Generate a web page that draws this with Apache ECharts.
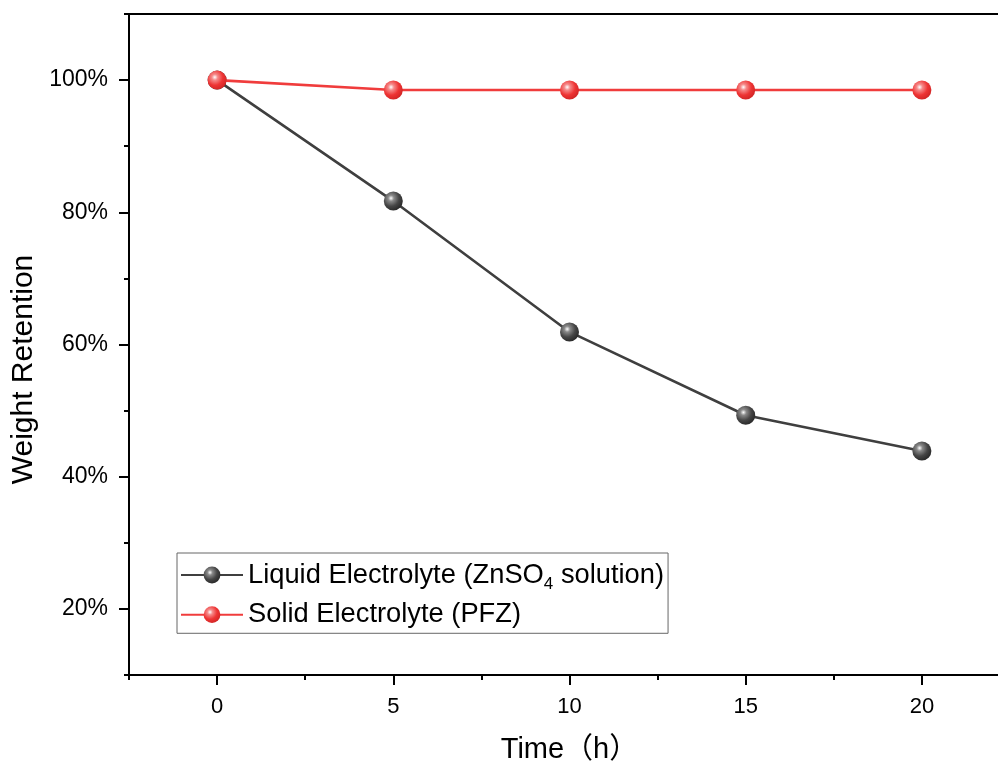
<!DOCTYPE html>
<html>
<head>
<meta charset="utf-8">
<script src="https://cdn.jsdelivr.net/npm/echarts@6/dist/echarts.min.js"></script>
<style>
html,body{margin:0;padding:0;background:#fff;}
#main{width:998px;height:765px;}
</style>
</head>
<body>
<div id="main"></div>
<script>
const timeH = [0, 5, 10, 15, 20];
const liquidRetention = [100, 81.7, 61.9, 49.3, 43.9];
const solidRetention = [100, 98.5, 98.5, 98.5, 98.5];
const xMajorTicks = [0, 5, 10, 15, 20];
const xMinorTicks = [-2.5, 2.5, 7.5, 12.5, 17.5, 22.5];
const yMajorTicks = [20, 40, 60, 80, 100];
const yMinorTicks = [10, 30, 50, 70, 90, 110];
const seriesNames = ['Liquid Electrolyte (ZnSO4 solution)', 'Solid Electrolyte (PFZ)'];

const FONT = '"Liberation Sans", Arial, "Noto Sans CJK SC", sans-serif';

function sphere(base, mid, dark) {
  return {
    type: 'radial', x: 0.38, y: 0.35, r: 0.7,
    colorStops: [
      {offset: 0, color: '#ffffff'},
      {offset: 0.22, color: mid},
      {offset: 0.6, color: base},
      {offset: 1, color: dark}
    ]
  };
}

const chart = echarts.init(document.getElementById('main'), null, {renderer: 'canvas'});
const X_MIN = -2.5, X_MAX = 22.5, Y_MIN = 10, Y_MAX = 110;

chart.setOption({
  backgroundColor: '#ffffff',
  animation: false,
  grid: {left: 129, right: -12, top: 14, bottom: 90, containLabel: false, outerBoundsMode: 'none'},
  legend: {
    orient: 'vertical',
    left: 177, top: 553,
    padding: [8, 4, 5, 3],
    itemGap: 8,
    itemWidth: 62,
    itemHeight: 21,
    borderColor: '#666666',
    borderWidth: 1,
    borderRadius: 0,
    data: seriesNames,
    formatter: function (name) {
      if (name.indexOf('ZnSO4') >= 0) {
        return '{a|Liquid Electrolyte (ZnSO}{sub|4}{a| solution)}';
      }
      return '{a|' + name + '}';
    },
    textStyle: {
      color: '#000',
      fontFamily: FONT,
      fontSize: 27,
      rich: {
        a: {fontSize: 27.3, fontFamily: FONT, color: '#000', lineHeight: 28},
        sub: {fontSize: 17, fontFamily: FONT, color: '#000', lineHeight: 17, verticalAlign: 'top', padding: [15, 0, 0, 0]}
      }
    }
  },
  xAxis: [
    {
      type: 'value', position: 'bottom', min: X_MIN, max: X_MAX, interval: 2.5,
      name: 'Time（h）', nameLocation: 'middle', nameGap: 60,
      nameTextStyle: {fontFamily: FONT, fontSize: 29, color: '#000'},
      axisLine: {show: true, onZero: false, lineStyle: {color: '#000', width: 2}},
      axisTick: {show: true, inside: false, length: 10, customValues: xMajorTicks, lineStyle: {color: '#000', width: 2}},
      axisLabel: {show: true, customValues: xMajorTicks, margin: 21, fontFamily: FONT, fontSize: 22, color: '#000'},
      splitLine: {show: false}
    },
    {
      type: 'value', position: 'bottom', min: X_MIN, max: X_MAX, interval: 2.5,
      axisLine: {show: false, onZero: false},
      axisTick: {show: true, inside: false, length: 5, customValues: xMinorTicks, lineStyle: {color: '#000', width: 2}},
      axisLabel: {show: false},
      splitLine: {show: false}
    },
    {
      type: 'value', position: 'top', min: X_MIN, max: X_MAX, interval: 2.5,
      axisLine: {show: true, onZero: false, lineStyle: {color: '#000', width: 2}},
      axisTick: {show: false},
      axisLabel: {show: false},
      splitLine: {show: false}
    }
  ],
  yAxis: [
    {
      type: 'value', position: 'left', min: Y_MIN, max: Y_MAX, interval: 10,
      name: 'Weight Retention', nameLocation: 'middle', nameGap: 84, nameRotate: 90,
      nameTextStyle: {fontFamily: FONT, fontSize: 30, color: '#000', padding: [0, 50, 0, 0]},
      axisLine: {show: true, onZero: false, lineStyle: {color: '#000', width: 2}},
      axisTick: {show: true, inside: false, length: 10, customValues: yMajorTicks, lineStyle: {color: '#000', width: 2}},
      axisLabel: {show: true, customValues: yMajorTicks, margin: 21, fontFamily: FONT, fontSize: 23, color: '#000', formatter: '{value}%'},
      splitLine: {show: false}
    },
    {
      type: 'value', position: 'left', min: Y_MIN, max: Y_MAX, interval: 10,
      axisLine: {show: false, onZero: false},
      axisTick: {show: true, inside: false, length: 5, customValues: yMinorTicks, lineStyle: {color: '#000', width: 2}},
      axisLabel: {show: false},
      splitLine: {show: false}
    }
  ],
  series: [
    {
      name: seriesNames[0], type: 'line', xAxisIndex: 0, yAxisIndex: 0,
      data: timeH.map((t, i) => [t, liquidRetention[i]]),
      symbol: 'circle', symbolSize: 19,
      lineStyle: {color: '#3f3f3f', width: 2.6},
      itemStyle: {color: sphere('#464646', '#8a8a8a', '#262626'), borderWidth: 0},
      z: 3
    },
    {
      name: seriesNames[1], type: 'line', xAxisIndex: 0, yAxisIndex: 0,
      data: timeH.map((t, i) => [t, solidRetention[i]]),
      symbol: 'circle', symbolSize: 19,
      lineStyle: {color: '#f03c3c', width: 2.6},
      itemStyle: {color: sphere('#ee3434', '#f58a8a', '#cf2424'), borderWidth: 0},
      z: 4
    }
  ]
});
</script>
</body>
</html>
